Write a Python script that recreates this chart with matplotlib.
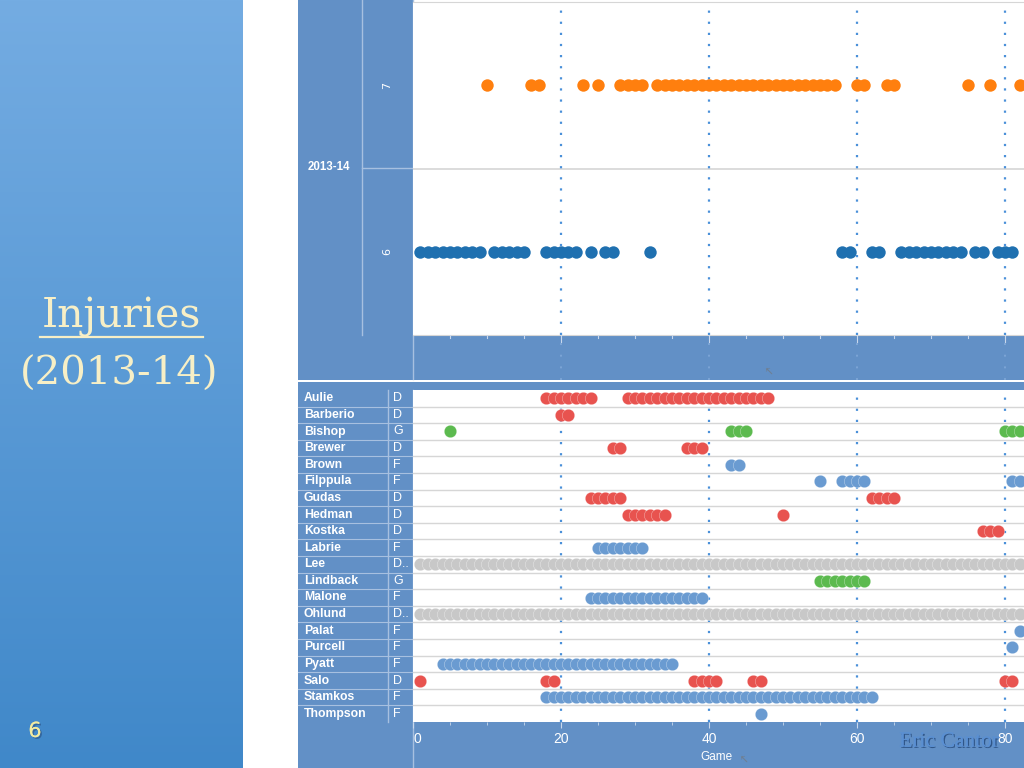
import matplotlib
matplotlib.use('Agg')
import matplotlib.pyplot as plt
import matplotlib.patheffects as pe
import numpy as np
from matplotlib.patches import Rectangle

# ---------------- data ----------------
season_label = "2013-14"
count_labels = ["7", "6"]
games_7 = [10, 16, 17, 23, 25, 28, 29, 30, 31, 33, 34, 35, 36, 37, 38, 39, 40, 41,
           42, 43, 44, 45, 46, 47, 48, 49, 50, 51, 52, 53, 54, 55, 56, 57, 60, 61,
           64, 65, 75, 78, 82]
games_6 = [1, 2, 3, 4, 5, 6, 7, 8, 9, 11, 12, 13, 14, 15, 18, 19, 20, 21, 22, 24,
           26, 27, 32, 58, 59, 62, 63, 66, 67, 68, 69, 70, 71, 72, 73, 74, 76, 77,
           79, 80, 81]

players = ["Aulie", "Barberio", "Bishop", "Brewer", "Brown", "Filppula", "Gudas",
           "Hedman", "Kostka", "Labrie", "Lee", "Lindback", "Malone", "Ohlund",
           "Palat", "Purcell", "Pyatt", "Salo", "Stamkos", "Thompson"]
positions = ["D", "D", "G", "D", "F", "F", "D", "D", "D", "F", "D..", "G", "F",
             "D..", "F", "F", "F", "D", "F", "F"]

all_games = [1, 2, 3, 4, 5, 6, 7, 8, 9, 10, 11, 12, 13, 14, 15, 16, 17, 18, 19, 20,
             21, 22, 23, 24, 25, 26, 27, 28, 29, 30, 31, 32, 33, 34, 35, 36, 37, 38,
             39, 40, 41, 42, 43, 44, 45, 46, 47, 48, 49, 50, 51, 52, 53, 54, 55, 56,
             57, 58, 59, 60, 61, 62, 63, 64, 65, 66, 67, 68, 69, 70, 71, 72, 73, 74,
             75, 76, 77, 78, 79, 80, 81, 82]
aulie = [18, 19, 20, 21, 22, 23, 24, 29, 30, 31, 32, 33, 34, 35, 36, 37, 38, 39, 40,
         41, 42, 43, 44, 45, 46, 47, 48]
barberio = [20, 21]
bishop = [5, 43, 44, 45, 80, 81, 82]
brewer = [27, 28, 37, 38, 39]
brown = [43, 44]
filppula = [55, 58, 59, 60, 61, 81, 82]
gudas = [24, 25, 26, 27, 28, 62, 63, 64, 65]
hedman = [29, 30, 31, 32, 33, 34, 50]
kostka = [77, 78, 79]
labrie = [25, 26, 27, 28, 29, 30, 31]
lee = all_games
lindback = [55, 56, 57, 58, 59, 60, 61]
malone = [24, 25, 26, 27, 28, 29, 30, 31, 32, 33, 34, 35, 36, 37, 38, 39]
ohlund = all_games
palat = [82]
purcell = [81]
pyatt = [4, 5, 6, 7, 8, 9, 10, 11, 12, 13, 14, 15, 16, 17, 18, 19, 20, 21, 22, 23,
         24, 25, 26, 27, 28, 29, 30, 31, 32, 33, 34, 35]
salo = [1, 18, 19, 38, 39, 40, 41, 46, 47, 80, 81]
stamkos = [18, 19, 20, 21, 22, 23, 24, 25, 26, 27, 28, 29, 30, 31, 32, 33, 34, 35,
           36, 37, 38, 39, 40, 41, 42, 43, 44, 45, 46, 47, 48, 49, 50, 51, 52, 53,
           54, 55, 56, 57, 58, 59, 60, 61, 62]
thompson = [47]
player_games = [aulie, barberio, bishop, brewer, brown, filppula, gudas, hedman,
                kostka, labrie, lee, lindback, malone, ohlund, palat, purcell, pyatt,
                salo, stamkos, thompson]

x_ticks = [0, 20, 40, 60, 80]

# ---------------- styling ----------------
W, H = 1024, 768
HEAD = "#6290c6"
LINE_HEAD = "#a7c0e0"
GRID = "#d6d6d6"
DOT = "#4a90d9"
pos_colors = {"D": "#e8534f", "G": "#5cba4f", "F": "#6a9bd1", "D..": "#c8c8c8"}
ORANGE = "#ff7f0e"
BLUE = "#1f70b0"
XMAX = (1024 - 413) / 7.4

fig = plt.figure(figsize=(10.24, 7.68), dpi=100)
fig.patch.set_facecolor("white")

bg = fig.add_axes([0, 0, 1, 1])
bg.set_xlim(0, W)
bg.set_ylim(H, 0)
bg.axis("off")


def ax_px(x0, y0, x1, y1):
    return fig.add_axes([x0 / W, 1 - y1 / H, (x1 - x0) / W, (y1 - y0) / H])


def rect(x0, y0, x1, y1, c, z=0):
    bg.add_patch(Rectangle((x0, y0), x1 - x0, y1 - y0, facecolor=c, edgecolor="none", zorder=z))


# left slide panel gradient
grad = np.linspace(0, 1, 256)[:, None]
top = np.array([116, 172, 226]) / 255
bot = np.array([64, 136, 201]) / 255
img = top[None, None, :] * (1 - grad[..., None]) + bot[None, None, :] * grad[..., None]
bg.imshow(img, extent=[0, 243, H, 0], aspect="auto", zorder=0)
bg.set_xlim(0, W)
bg.set_ylim(H, 0)

shadow = [pe.withSimplePatchShadow(offset=(1.2, -1.2), shadow_rgbFace="#2a4f80", alpha=0.6), pe.Normal()]
cream = "#f7efc6"
bg.text(121, 317, "Injuries", family="DejaVu Serif", fontsize=29.5, color=cream,
        ha="center", va="center", zorder=3)
bg.plot([40, 203], [337, 337], color=cream, lw=1.6, zorder=3)
bg.text(119, 374, "(2013-14)", family="DejaVu Serif", fontsize=29, color=cream,
        ha="center", va="center", zorder=3)
bg.text(35, 731, "6", family="DejaVu Sans", fontsize=15, color="#f3eba0",
        ha="center", va="center", zorder=3, path_effects=shadow)

# header blocks
rect(298, 0, 413, 335, HEAD, 1)
rect(298, 335, 1024, 380, HEAD, 1)
rect(298, 382, 1024, 390, HEAD, 1)
rect(298, 390, 413, 722, HEAD, 1)
rect(298, 722, 1024, 768, HEAD, 1)
bg.plot([362, 362], [0, 335], color=LINE_HEAD, lw=1, zorder=2)
bg.plot([362, 413], [168, 168], color=LINE_HEAD, lw=1, zorder=2)
bg.plot([413, 413], [0, 380], color=LINE_HEAD, lw=1, zorder=2)
bg.plot([298, 1024], [381, 381], color="white", lw=1.2, zorder=2)
bg.plot([388, 388], [390, 722], color=LINE_HEAD, lw=1, zorder=2)
bg.plot([413, 413], [390, 768], color=LINE_HEAD, lw=1, zorder=2)

bg.text(329, 167, season_label, color="white", fontsize=8.3, fontweight="bold",
        family="Liberation Sans", ha="center", va="center", zorder=3)

row_h = (722 - 390) / len(players)
for i, (p, pos) in enumerate(zip(players, positions)):
    yc = 390 + (i + 0.5) * row_h
    bg.text(304, yc, p, color="white", fontsize=8.8, fontweight="bold",
            family="Liberation Sans", ha="left", va="center", zorder=3)
    bg.text(393, yc, pos, color="white", fontsize=9, family="Liberation Sans",
            ha="left", va="center", zorder=3)
    if i > 0:
        bg.plot([298, 413], [390 + i * row_h] * 2, color=LINE_HEAD, lw=0.8, zorder=2)

bg.text(716, 757, "Game", color="white", fontsize=8.5, family="Liberation Sans",
        ha="center", va="center", zorder=3)
bg.text(745, 757, "\u2192", color="#6f7f92", fontsize=8, rotation=135,
        ha="center", va="center", zorder=3)
bg.text(770, 369, "\u2192", color="#6f7f92", fontsize=8, rotation=135,
        ha="center", va="center", zorder=3)

# ---------------- top panel ----------------
axt = ax_px(413, 2, 1024, 335)
axt.set_facecolor("white")
axt.set_xlim(0, XMAX)
axt.set_ylim(-0.5, 1.5)
axt.scatter(games_7, [1] * len(games_7), s=80, color=ORANGE, linewidths=0, zorder=3)
axt.scatter(games_6, [0] * len(games_6), s=80, color=BLUE, linewidths=0, zorder=3)
axt.axhline(0.5, color=GRID, lw=1.2, zorder=1)
for xv in x_ticks[1:]:
    axt.axvline(xv, color=DOT, lw=1.6, linestyle=(0, (1, 4)), zorder=2)
axt.set_yticks([])
axt.set_xticks([])
for s in axt.spines.values():
    s.set_color(GRID)
axt.spines["left"].set_visible(False)
axt.spines["right"].set_visible(False)

# label texts for count rows
for lab, yv in zip(count_labels, [1, 0]):
    ypix = 2 + (1.5 - yv) / 2.0 * 333
    bg.text(387, ypix, lab, color="white", fontsize=8, rotation=90,
            ha="center", va="center", zorder=3)

# top axis band ticks
axb = ax_px(413, 335, 1024, 380)
axb.set_xlim(0, XMAX)
axb.set_ylim(0, 1)
axb.patch.set_alpha(0)
axb.axis("off")
for xv in range(5, 82, 5):
    axb.plot([xv, xv], [1, 0.93 if xv % 20 else 0.85], color="#c9d8ec", lw=0.8)
for xv in x_ticks[1:]:
    axb.axvline(xv, color="#8db3e0", lw=1.4, linestyle=(0, (1, 5)), alpha=0.6)

# ---------------- bottom panel ----------------
axm = ax_px(413, 390, 1024, 722)
axm.set_facecolor("white")
axm.set_xlim(0, XMAX)
axm.set_ylim(len(players) - 0.5, -0.5)
for i, (g, pos) in enumerate(zip(player_games, positions)):
    axm.scatter(g, [i] * len(g), s=80, color=pos_colors[pos],
                edgecolors=(1, 1, 1, 0.55), linewidths=0.35, zorder=3)
for i in range(1, len(players)):
    axm.axhline(i - 0.5, color=GRID, lw=1, zorder=1)
for xv in x_ticks[1:]:
    axm.axvline(xv, color=DOT, lw=1.6, linestyle=(0, (1, 4)), zorder=2)
axm.set_yticks([])
axm.set_xticks(x_ticks)
axm.set_xticks(list(range(5, 82, 5)), minor=True)
axm.tick_params(axis="x", which="major", length=4, color="#c9d8ec", labelcolor="white",
                labelsize=10, pad=3)
axm.tick_params(axis="x", which="minor", length=2.5, color="#c9d8ec")
for lbl in axm.get_xticklabels():
    lbl.set_fontfamily("Liberation Sans")
axm.get_xticklabels()[0].set_horizontalalignment("left")
for s in axm.spines.values():
    s.set_visible(False)

# watermark
bg.text(949, 742, "Eric Cantor", family="Liberation Serif", fontsize=15.5,
        color="#5a8fd2", ha="center", va="center", zorder=4,
        path_effects=[pe.withSimplePatchShadow(offset=(1, -1), shadow_rgbFace="#23487a", alpha=0.8),
                      pe.Normal()])

fig.savefig("out.png", dpi=100)
